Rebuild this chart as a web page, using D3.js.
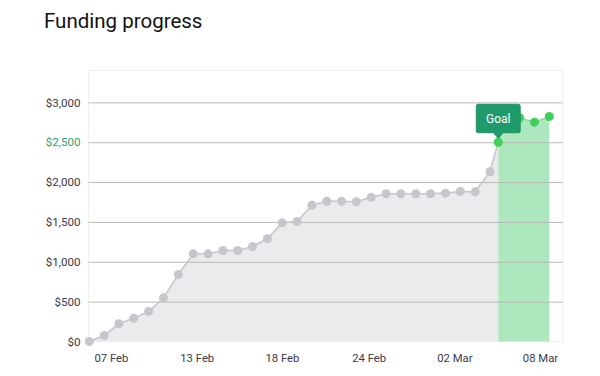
<!DOCTYPE html>
<html>
<head>
<meta charset="utf-8">
<script src="https://cdn.jsdelivr.net/npm/d3@7"></script>
<style>
  html, body { margin: 0; padding: 0; background: #fff; }
  svg { display: block; font-family: Roboto, "Helvetica Neue", Arial, sans-serif; }
</style>
</head>
<body>
<svg id="chart" width="600" height="376"></svg>
<script>
// ---- data ----
const title = "Funding progress";
// daily cumulative funding, 05 Feb .. 02 Mar (index 0..27)
const raisedValues = [0, 75, 222, 292, 376, 548, 840, 1100, 1100, 1142, 1142, 1192, 1289, 1489, 1506,
                      1710, 1760, 1760, 1753, 1810, 1853, 1853, 1853, 1853, 1861, 1882, 1878, 2129];
// goal reached between day 27 and day 28
const goalIndex = 27.56;
const goalValue = 2500;
const goalLabel = "Goal";
// after the goal (index 28..31)
const afterGoalIndex = [28, 29, 30, 31];
const afterGoalValues = [2790, 2807, 2752, 2823];
// x axis tick labels and their positions (in day index units)
const xTickLabels = ["07 Feb", "13 Feb", "18 Feb", "24 Feb", "02 Mar", "08 Mar"];
const xTickPositions = [1.46, 7.24, 12.98, 18.83, 24.6, 30.37];
// y axis ticks
const yTickValues = [0, 500, 1000, 1500, 2000, 2500, 3000];
const yMax = 3400;

// ---- layout ----
const svg = d3.select("#chart");
const frame = { left: 88.5, right: 563, top: 70.5, bottom: 341.5 };
const x = d3.scaleLinear().domain([0, 31]).range([89.3, 549.3]);
const y = d3.scaleLinear().domain([0, yMax]).range([341.5, 70.5]);

// title
svg.append("text")
  .attr("x", 44).attr("y", 27.5)
  .attr("font-size", 20.5).attr("fill", "#111")
  .text(title);

// frame
svg.append("rect")
  .attr("x", frame.left).attr("y", frame.top)
  .attr("width", frame.right - frame.left).attr("height", frame.bottom - frame.top)
  .attr("fill", "none").attr("stroke", "#efefef").attr("stroke-width", 1);

// data arrays
const grayData = raisedValues.map((v, i) => ({ i, v }));
grayData.push({ i: goalIndex, v: goalValue });
const greenData = [{ i: goalIndex, v: goalValue }].concat(afterGoalIndex.map((i, k) => ({ i, v: afterGoalValues[k] })));

// areas
const area = d3.area().x(d => x(d.i)).y0(y(0)).y1(d => y(d.v));
svg.append("path").datum(grayData).attr("d", area).attr("fill", "#ebebee");
svg.append("path").datum(greenData).attr("d", area).attr("fill", "#ade7bd");

// gridlines
const yAxis = d3.axisLeft(y).tickValues(yTickValues)
  .tickSize(-(frame.right - frame.left))
  .tickPadding(8)
  .tickFormat(d => "$" + d3.format(",")(d));
const gy = svg.append("g").attr("transform", `translate(${frame.left},0)`).call(yAxis);
gy.select(".domain").remove();
gy.selectAll(".tick line")
  .attr("stroke", "#b9b9b9").attr("stroke-width", 1)
  .attr("opacity", d => d === 0 ? 0 : 1);
gy.selectAll(".tick text")
  .attr("font-size", 11.6).attr("font-family", "Roboto, Arial, sans-serif")
  .attr("fill", d => d === goalValue ? "#2f9e73" : "#3a3a4a")
  .attr("x", -8);

// x axis
const xAxis = d3.axisBottom(x).tickValues(xTickPositions)
  .tickSize(0).tickPadding(12)
  .tickFormat((d, k) => xTickLabels[k]);
const gx = svg.append("g").attr("transform", `translate(0,${frame.bottom})`).call(xAxis);
gx.select(".domain").remove();
gx.selectAll(".tick text")
  .attr("font-size", 11.3).attr("font-family", "Roboto, Arial, sans-serif")
  .attr("fill", "#3a3a4a");

// lines
const line = d3.line().x(d => x(d.i)).y(d => y(d.v));
svg.append("path").datum(grayData).attr("d", line)
  .attr("fill", "none").attr("stroke", "#c6c6cc").attr("stroke-width", 1.6);
svg.append("path").datum(greenData).attr("d", line)
  .attr("fill", "none").attr("stroke", "#8fd9a0").attr("stroke-width", 1.6);

// points
svg.append("g").selectAll("circle").data(grayData.slice(0, raisedValues.length)).join("circle")
  .attr("cx", d => x(d.i)).attr("cy", d => y(d.v)).attr("r", 4.5)
  .attr("fill", "#c6c6cd");
svg.append("g").selectAll("circle").data(greenData).join("circle")
  .attr("cx", d => x(d.i)).attr("cy", d => y(d.v)).attr("r", 4.5)
  .attr("fill", "#3fd05c");

// goal tooltip
const gxp = x(goalIndex), gyp = y(goalValue);
const tipW = 44, tipH = 28.5, tipBottom = gyp - 9.5;
const tip = svg.append("g");
tip.append("path")
  .attr("d", `M${gxp - tipW / 2},${tipBottom - tipH + 2}
              q0,-2 2,-2 h${tipW - 4} q2,0 2,2
              v${tipH - 4} q0,2 -2,2
              h${-(tipW / 2 - 7)} l-5,5.5 l-5,-5.5
              h${-(tipW / 2 - 7)} q-2,0 -2,-2 z`)
  .attr("fill", "#1f9a6a").attr("stroke", "#18865b").attr("stroke-width", 0.8);
tip.append("text")
  .attr("x", gxp).attr("y", tipBottom - tipH / 2 + 4.3)
  .attr("text-anchor", "middle").attr("font-size", 12).attr("fill", "#fff")
  .text(goalLabel);
</script>
</body>
</html>
